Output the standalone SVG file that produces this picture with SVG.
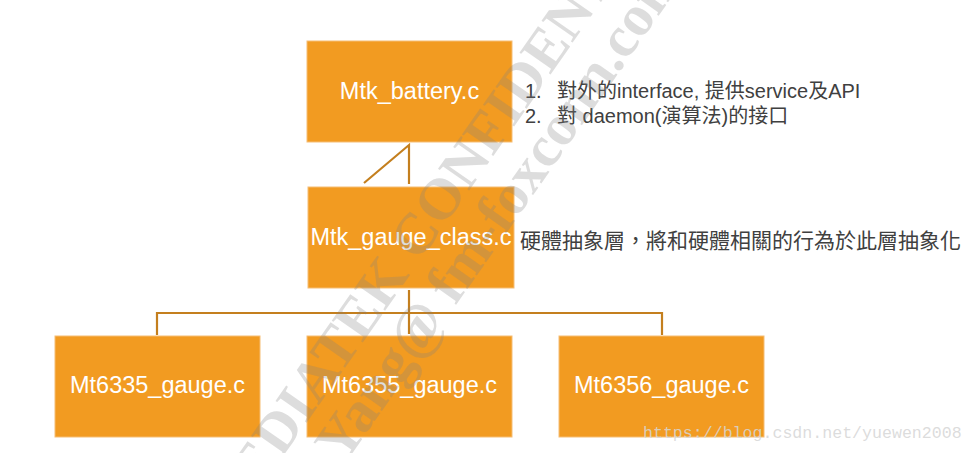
<svg xmlns="http://www.w3.org/2000/svg" width="973" height="453" viewBox="0 0 973 453">
<style>
.box{fill:#F29B21;stroke:#F6BD74;stroke-width:1}
.lbl{font-family:"Liberation Sans","Noto Sans",sans-serif;font-size:23.5px;fill:#ffffff;text-anchor:middle}
.note{font-family:"Liberation Sans","Noto Sans CJK TC",sans-serif;font-size:20px;fill:#404040}
.cn{font-family:"Noto Sans CJK TC","Noto Sans CJK SC",sans-serif;font-size:21px;fill:#404040}
.conn{fill:none;stroke:#C47F1E;stroke-width:2.2}
.wm{font-family:"Liberation Serif",serif;font-weight:bold;font-size:58px;fill:#808080;fill-opacity:0.27}
.url{font-family:"Liberation Mono",monospace;font-size:16.6px;fill:#d6d6d6;fill-opacity:0.85}
</style>
<rect width="973" height="453" fill="#ffffff"/>
<g id="connectors">
<polyline class="conn" points="364,183 409,145 409,184"/>
<line class="conn" x1="409" y1="290" x2="409" y2="334"/>
<polyline class="conn" points="157,335 157,313 662,313 662,335"/>
</g>
<g id="node-battery">
<rect class="box" x="307" y="41" width="205" height="101"/>
<text class="lbl" x="409.5" y="99">Mtk_battery.c</text>
</g>
<g id="node-gauge-class">
<rect class="box" x="308" y="187" width="206" height="101"/>
<text class="lbl" x="411" y="245">Mtk_gauge_class.c</text>
</g>
<g id="node-mt6335">
<rect class="box" x="55" y="336" width="205" height="101"/>
<text class="lbl" x="157.5" y="393">Mt6335_gauge.c</text>
</g>
<g id="node-mt6355">
<rect class="box" x="307" y="336" width="205" height="101"/>
<text class="lbl" x="409.5" y="393">Mt6355_gauge.c</text>
</g>
<g id="node-mt6356">
<rect class="box" x="559" y="336" width="205" height="101"/>
<text class="lbl" x="661.5" y="393">Mt6356_gauge.c</text>
</g>
<g id="notes">
<text class="note" x="525" y="98">1.</text>
<text class="note" x="557" y="98">對外的interface, 提供service及API</text>
<text class="note" x="525" y="123">2.</text>
<text class="note" x="557" y="123">對 daemon(演算法)的接口</text>
<text class="cn" x="520" y="248">硬體抽象層，將和硬體相關的行為於此層抽象化</text>
</g>
<g id="watermark">
<text class="wm" transform="translate(228,535) rotate(-55)">MEDIATEK CONFIDENTIAL</text>
<text class="wm" transform="translate(344,465) rotate(-55)">Yang@ fm-foxconn.com</text>
</g>
<text class="url" x="643" y="438">https://blog.csdn.net/yuewen2008</text>
</svg>
